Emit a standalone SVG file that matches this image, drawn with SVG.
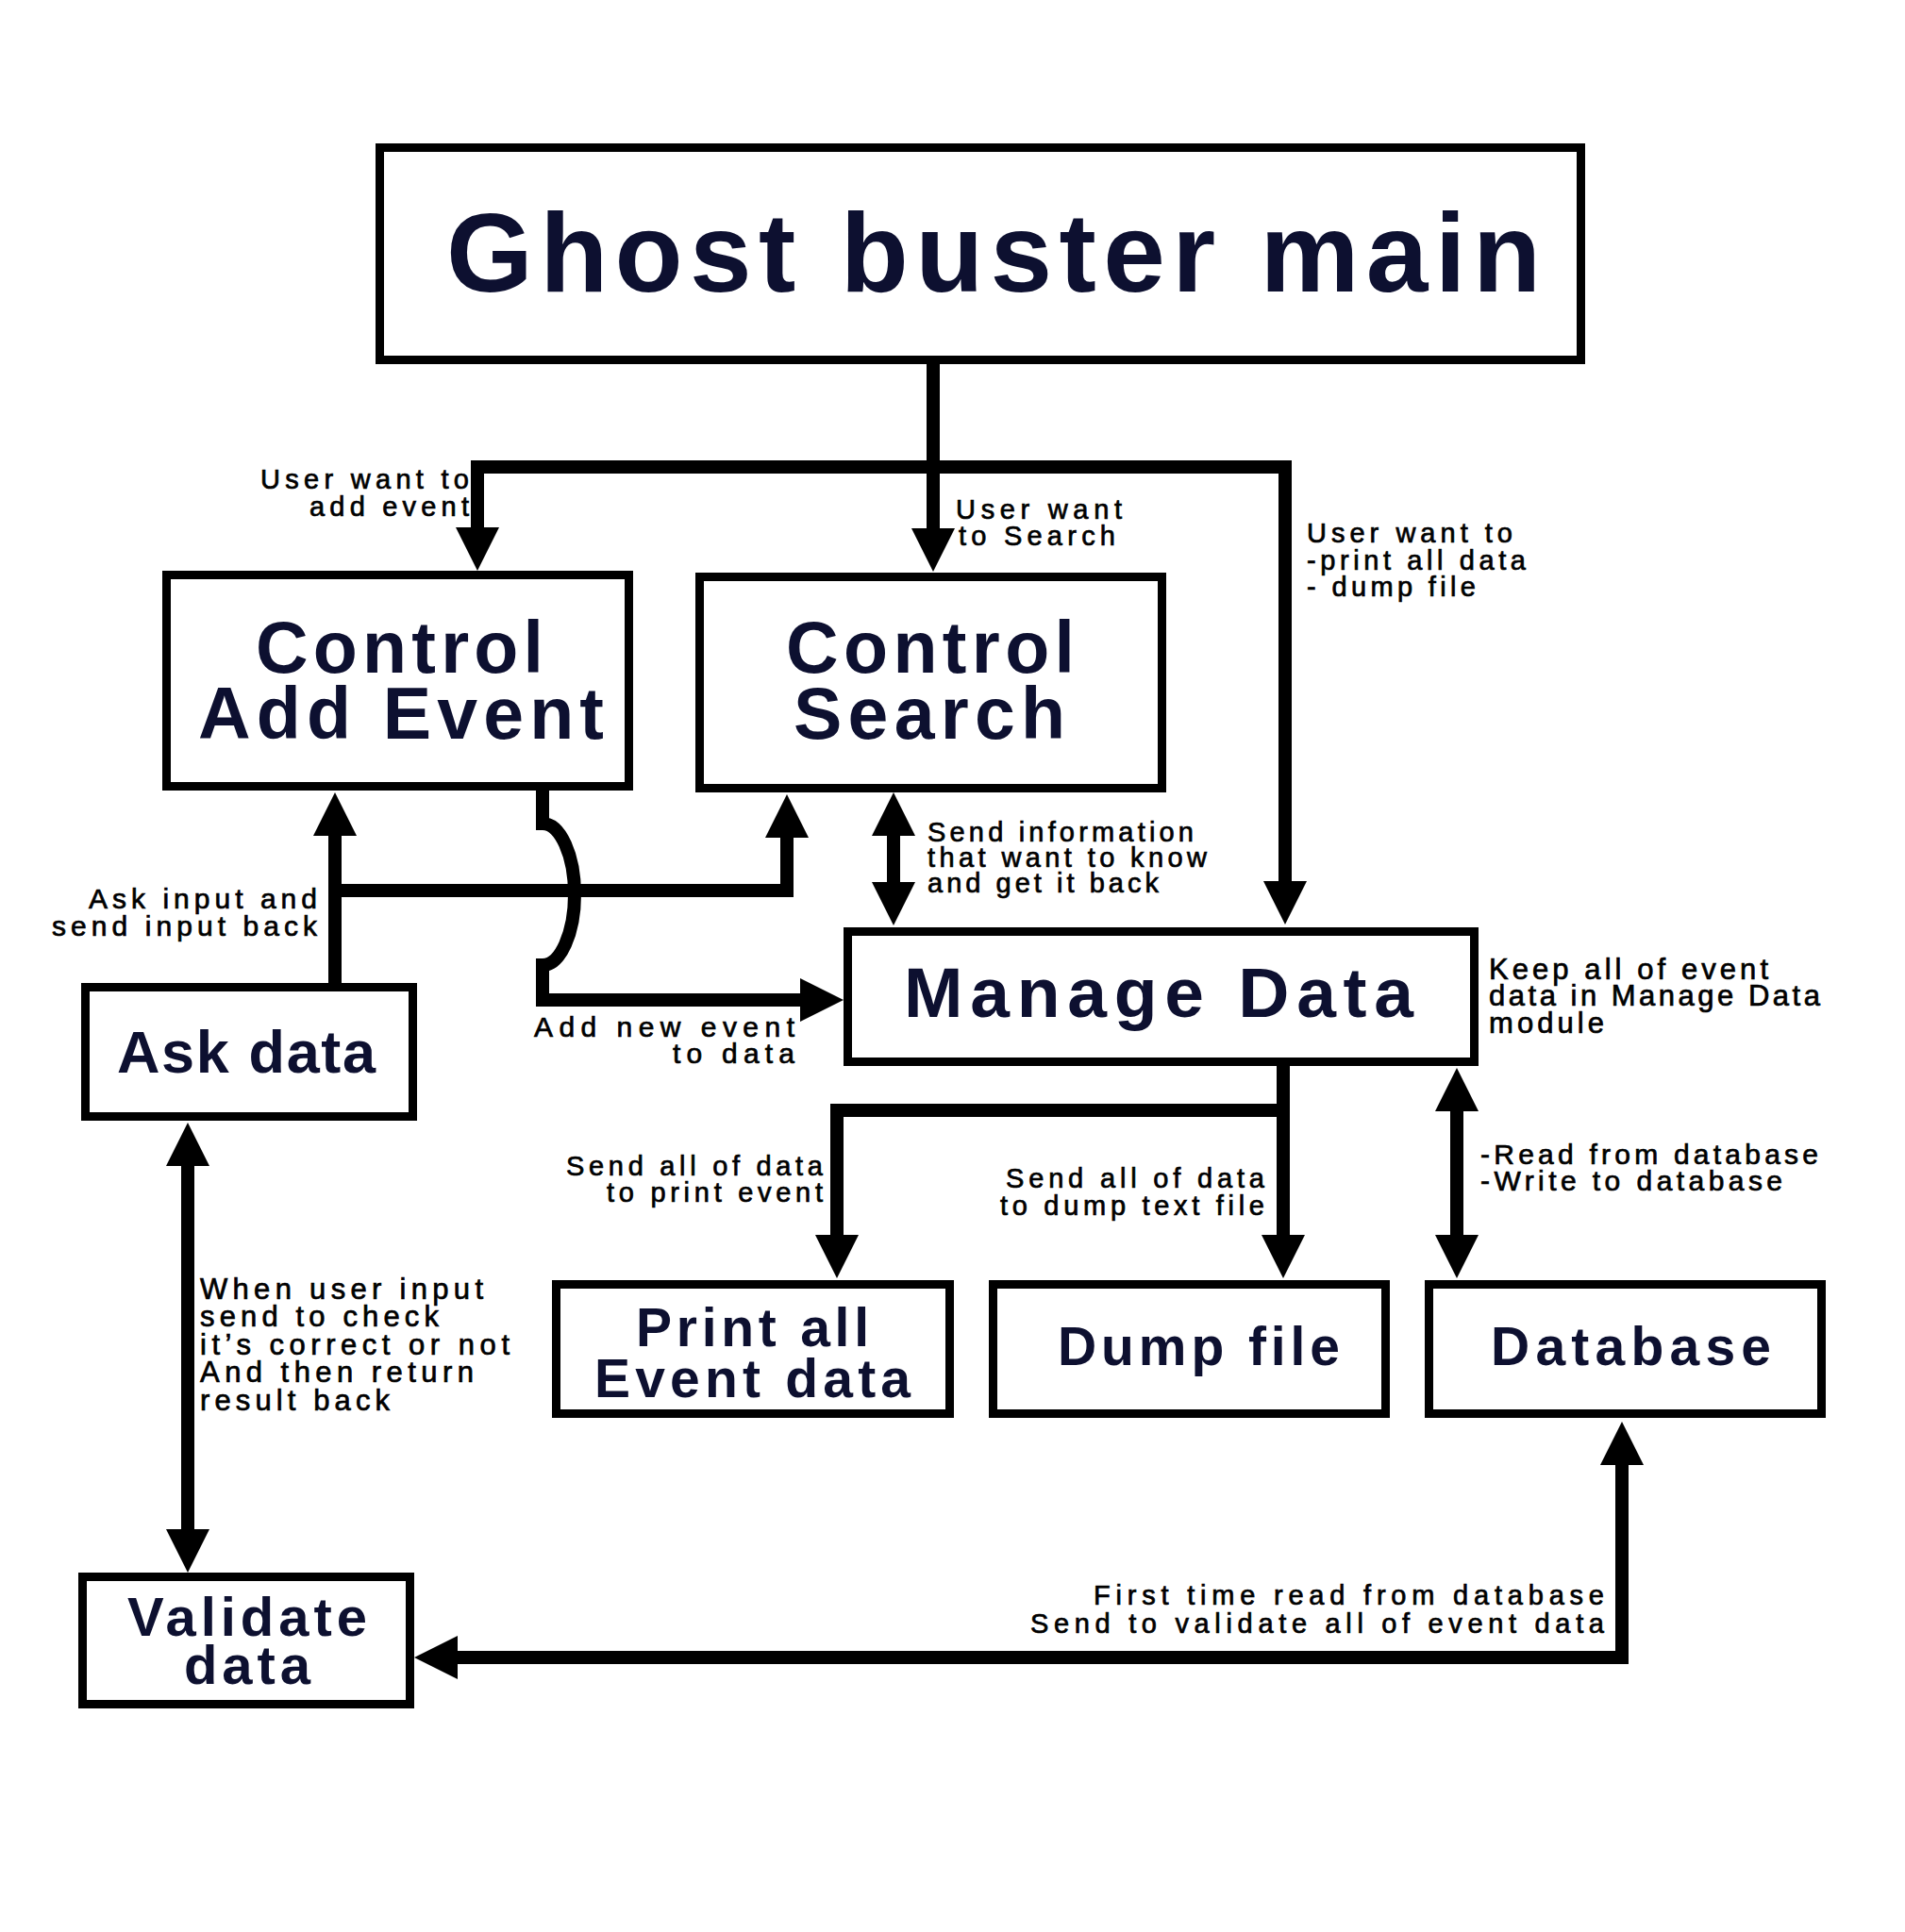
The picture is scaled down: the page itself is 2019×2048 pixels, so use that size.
<svg xmlns="http://www.w3.org/2000/svg" width="2019" height="2048" viewBox="0 0 2019 2048">
<defs>
<style>
.box{fill:#fff;stroke:#000;stroke-width:9}
.h{font-family:"Liberation Sans",Arial,sans-serif;font-weight:bold;fill:#0d1030}
.l{font-family:"Liberation Sans",Arial,sans-serif;fill:#000;stroke:#000;stroke-width:0.7}
.c{fill:none;stroke:#000;stroke-width:14;stroke-linejoin:miter}
.a{marker-end:url(#ah)}
.aa{marker-start:url(#ah);marker-end:url(#ah)}
</style>
<marker id="ah" viewBox="0 0 46 46" refX="2" refY="23" markerWidth="46" markerHeight="46" markerUnits="userSpaceOnUse" orient="auto-start-reverse">
<path d="M0,0 L46,23 L0,46 z" fill="#000"/>
</marker>
</defs>
<rect width="2019" height="2048" fill="#fff"/>

<g id="connectors">
<path class="c a" d="M989,386 V562"/>
<path class="c aa" d="M506,561 V495 H1362 V936"/>
<path class="c a" d="M575,838 V873 A34,75 0 0 1 575,1023 V1060 H850"/>
<path class="c a" d="M355,1042 V884"/>
<path class="c a" d="M355,944 H834 V886"/>
<path class="c aa" d="M947,884 V937"/>
<path class="c a" d="M1360,1130 V1311"/>
<path class="c a" d="M1360,1177 H887 V1311"/>
<path class="c aa" d="M1544,1176 V1311"/>
<path class="c aa" d="M199,1234 V1623"/>
<path class="c aa" d="M483,1757 H1719 V1551"/>
</g>

<g id="labels">
<text class="l" font-size="29" x="276" y="518" textLength="221" lengthAdjust="spacing">User want to</text>
<text class="l" font-size="29" x="328" y="547" textLength="169" lengthAdjust="spacing">add event</text>
<text class="l" font-size="29" x="1013" y="550" textLength="176" lengthAdjust="spacing">User want</text>
<text class="l" font-size="29" x="1016" y="578" textLength="166" lengthAdjust="spacing">to Search</text>
<text class="l" font-size="29" x="1385" y="575" textLength="218" lengthAdjust="spacing">User want to</text>
<text class="l" font-size="29" x="1385" y="604" textLength="232" lengthAdjust="spacing">-print all data</text>
<text class="l" font-size="29" x="1385" y="632" textLength="179" lengthAdjust="spacing">- dump file</text>
<text class="l" font-size="29" x="983" y="892" textLength="282" lengthAdjust="spacing">Send information</text>
<text class="l" font-size="29" x="983" y="919" textLength="296" lengthAdjust="spacing">that want to know</text>
<text class="l" font-size="29" x="983" y="946" textLength="245" lengthAdjust="spacing">and get it back</text>
<text class="l" font-size="30" x="94" y="963" textLength="242" lengthAdjust="spacing">Ask input and</text>
<text class="l" font-size="30" x="55" y="992" textLength="281" lengthAdjust="spacing">send input back</text>
<text class="l" font-size="30" x="566" y="1099" textLength="276" lengthAdjust="spacing">Add new event</text>
<text class="l" font-size="30" x="713" y="1127" textLength="129" lengthAdjust="spacing">to data</text>
<text class="l" font-size="31" x="1578" y="1038" textLength="296" lengthAdjust="spacing">Keep all of event</text>
<text class="l" font-size="31" x="1578" y="1066" textLength="351" lengthAdjust="spacing">data in Manage Data</text>
<text class="l" font-size="31" x="1578" y="1095" textLength="122" lengthAdjust="spacing">module</text>
<text class="l" font-size="30" x="1569" y="1234" textLength="358" lengthAdjust="spacing">-Read from database</text>
<text class="l" font-size="30" x="1569" y="1262" textLength="320" lengthAdjust="spacing">-Write to database</text>
<text class="l" font-size="29" x="600" y="1246" textLength="272" lengthAdjust="spacing">Send all of data</text>
<text class="l" font-size="29" x="643" y="1274" textLength="229" lengthAdjust="spacing">to print event</text>
<text class="l" font-size="29" x="1066" y="1259" textLength="274" lengthAdjust="spacing">Send all of data</text>
<text class="l" font-size="29" x="1060" y="1288" textLength="280" lengthAdjust="spacing">to dump text file</text>
<text class="l" font-size="31" x="212" y="1377" textLength="300" lengthAdjust="spacing">When user input</text>
<text class="l" font-size="31" x="212" y="1406" textLength="253" lengthAdjust="spacing">send to check</text>
<text class="l" font-size="31" x="212" y="1436" textLength="328" lengthAdjust="spacing">it’s correct or not</text>
<text class="l" font-size="31" x="212" y="1465" textLength="290" lengthAdjust="spacing">And then return</text>
<text class="l" font-size="31" x="212" y="1495" textLength="201" lengthAdjust="spacing">result back</text>
<text class="l" font-size="29" x="1159" y="1701" textLength="541" lengthAdjust="spacing">First time read from database</text>
<text class="l" font-size="29" x="1092" y="1731" textLength="608" lengthAdjust="spacing">Send to validate all of event data</text>
</g>

<g id="node-main">
<rect class="box" x="402.5" y="156.5" width="1273" height="225"/>
<text class="h" font-size="118" x="473" y="309" textLength="1160" lengthAdjust="spacing">Ghost buster main</text>
</g>
<g id="node-control-add-event">
<rect class="box" x="176.5" y="609.5" width="490" height="224"/>
<text class="h" font-size="77" x="271" y="713" textLength="305" lengthAdjust="spacing">Control</text>
<text class="h" font-size="77" x="210" y="783" textLength="430" lengthAdjust="spacing">Add Event</text>
</g>
<g id="node-control-search">
<rect class="box" x="741.5" y="611.5" width="490" height="224"/>
<text class="h" font-size="77" x="833" y="713" textLength="306" lengthAdjust="spacing">Control</text>
<text class="h" font-size="77" x="841" y="783" textLength="288" lengthAdjust="spacing">Search</text>
</g>
<g id="node-manage-data">
<rect class="box" x="898.5" y="987.5" width="664" height="138"/>
<text class="h" font-size="75" x="958" y="1078" textLength="540" lengthAdjust="spacing">Manage Data</text>
</g>
<g id="node-ask-data">
<rect class="box" x="90.5" y="1046.5" width="347" height="137"/>
<text class="h" font-size="63" x="124" y="1137" textLength="274" lengthAdjust="spacing">Ask data</text>
</g>
<g id="node-print-all">
<rect class="box" x="589.5" y="1361.5" width="417" height="137"/>
<text class="h" font-size="57" x="674" y="1427" textLength="247" lengthAdjust="spacing">Print all</text>
<text class="h" font-size="57" x="630" y="1481" textLength="335" lengthAdjust="spacing">Event data</text>
</g>
<g id="node-dump-file">
<rect class="box" x="1052.5" y="1361.5" width="416" height="137"/>
<text class="h" font-size="57" x="1121" y="1447" textLength="299" lengthAdjust="spacing">Dump file</text>
</g>
<g id="node-database">
<rect class="box" x="1514.5" y="1361.5" width="416" height="137"/>
<text class="h" font-size="57" x="1580" y="1447" textLength="297" lengthAdjust="spacing">Database</text>
</g>
<g id="node-validate-data">
<rect class="box" x="87.5" y="1671.5" width="347" height="135"/>
<text class="h" font-size="58" x="135" y="1734" textLength="254" lengthAdjust="spacing">Validate</text>
<text class="h" font-size="58" x="195" y="1785" textLength="134" lengthAdjust="spacing">data</text>
</g>
</svg>
